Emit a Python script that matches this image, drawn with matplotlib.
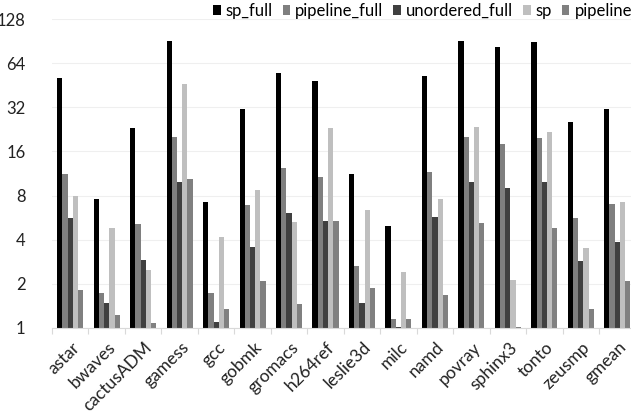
import numpy as np
import matplotlib
matplotlib.use("Agg")
import matplotlib.pyplot as plt
import matplotlib.transforms as mtransforms
from matplotlib.patches import Patch
from matplotlib.ticker import FixedLocator, NullFormatter

plt.rcParams['font.family'] = ['Lato', 'DejaVu Sans']

benchmarks = ["astar", "bwaves", "cactusADM", "gamess", "gcc", "gobmk", "gromacs",
              "h264ref", "leslie3d", "milc", "namd", "povray", "sphinx3", "tonto",
              "zeusmp", "gmean"]

sp_full = [50.5, 7.6, 23.0, 90.0, 7.25, 31.0, 55.0, 48.4, 11.3, 5.0, 52.0, 90.5, 82.0, 89.0, 25.5, 31.0]
pipeline_full = [11.3, 1.73, 5.1, 20.0, 1.74, 6.95, 12.3, 10.7, 2.63, 1.15, 11.55, 20.2, 18.1, 19.8, 5.66, 6.97]
unordered_full = [5.6, 1.49, 2.92, 9.9, 1.10, 3.54, 6.1, 5.4, 1.47, 1.02, 5.74, 9.93, 9.0, 9.93, 2.86, 3.86]
sp = [8.0, 4.8, 2.49, 46.0, 4.17, 8.7, 5.3, 23.2, 6.35, 2.4, 7.63, 23.6, 2.14, 21.7, 3.53, 7.27]
pipeline = [1.82, 1.22, 1.09, 10.3, 1.35, 2.1, 1.46, 5.35, 1.86, 1.16, 1.69, 5.17, 1.01, 4.81, 1.34, 2.1]

series = [sp_full, pipeline_full, unordered_full, sp, pipeline]
names = ["sp_full", "pipeline_full", "unordered_full", "sp", "pipeline"]
colors = ["#000000", "#7f7f7f", "#404040", "#bfbfbf", "#808080"]

fig = plt.figure(figsize=(6.31, 4.13), dpi=100)
ax = fig.add_axes([52 / 631, (413 - 328) / 413, (635.5 - 52) / 631, (328 - 19) / 413])

x = np.arange(len(benchmarks))
w = 0.143
for i, (vals, name, c) in enumerate(zip(series, names, colors)):
    ax.bar(x + (i - 2) * w, np.array(vals) - 1, bottom=1, width=w, color=c, label=name)

ax.set_yscale('log', base=2)
ax.set_ylim(1, 128)
ax.set_xlim(-0.5, len(benchmarks) - 0.5)
ax.yaxis.set_major_locator(FixedLocator([1, 2, 4, 8, 16, 32, 64, 128]))
ax.yaxis.set_minor_locator(FixedLocator([]))
ax.set_yticklabels(["1", "2", "4", "8", "16", "32", "64", "128"])
ax.yaxis.set_minor_formatter(NullFormatter())
ax.tick_params(axis='y', length=0, labelsize=12, pad=19, labelcolor='#222222')
ax.grid(axis='y', color='#efefef', linewidth=0.8)
ax.set_axisbelow(True)

ax.set_xticks(x)
ax.set_xticklabels(benchmarks, rotation=45, ha='right', rotation_mode='anchor',
                   fontsize=12.5, color='#222222')
ax.tick_params(axis='x', which='major', length=0, pad=8)
# small nudge to the right, like the reference
shift = mtransforms.ScaledTranslation(1 / 100, 0, fig.dpi_scale_trans)
for lbl in ax.get_xticklabels():
    lbl.set_transform(lbl.get_transform() + shift)
ax.set_xticks(np.arange(len(benchmarks) + 1) - 0.5, minor=True)
ax.tick_params(axis='x', which='minor', length=4, color='#d9d9d9', width=0.8)

for s in ['top', 'right', 'left']:
    ax.spines[s].set_visible(False)
ax.spines['bottom'].set_color('#d9d9d9')
ax.spines['bottom'].set_linewidth(0.8)

handles = [Patch(facecolor=c, label=n) for n, c in zip(names, colors)]
fig.legend(handles=handles, loc='upper right', bbox_to_anchor=(1.012, 1.01), ncol=5,
           frameon=False, fontsize=12, handlelength=0.45, handleheight=0.55,
           handletextpad=0.3, columnspacing=0.6, borderaxespad=0)

fig.savefig("out.png", dpi=100)
